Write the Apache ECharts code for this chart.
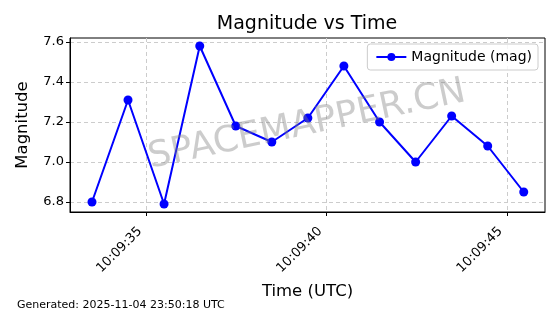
<!DOCTYPE html>
<html><head><meta charset="utf-8">
<script src="https://cdn.jsdelivr.net/npm/echarts@6/dist/echarts.min.js"></script>
<style>html,body{margin:0;padding:0;background:#fff}#c{width:560px;height:314px}</style>
</head><body><div id="c"></div>
<script>
var day = '2025-11-04';
var times = ['10:09:33.49','10:09:34.49','10:09:35.49','10:09:36.48','10:09:37.48','10:09:38.48','10:09:39.48','10:09:40.48','10:09:41.47','10:09:42.47','10:09:43.47','10:09:44.47','10:09:45.47'];
var magnitudes = [6.80, 7.31, 6.79, 7.58, 7.18, 7.10, 7.22, 7.48, 7.20, 7.00, 7.23, 7.08, 6.85];
var xTicks = ['10:09:35','10:09:40','10:09:45'];
var yTicks = [6.8, 7.0, 7.2, 7.4, 7.6];
var xRange = ['10:09:32.88','10:09:46.06'];
var yRange = [6.75, 7.62];

function ts(t){ return Date.parse(day + 'T' + t + 'Z'); }
function pad(n){ return (n<10?'0':'') + n; }
function fmtTime(v){ var d = new Date(v); return pad(d.getUTCHours())+':'+pad(d.getUTCMinutes())+':'+pad(d.getUTCSeconds()); }

var font = 'DejaVu Sans';
var chart = echarts.init(document.getElementById('c'), null, {renderer:'canvas'});
chart.setOption({
  animation: false,
  backgroundColor: '#fff',
  textStyle: {fontFamily: font},
  title: {text: 'Magnitude vs Time', left: 302, top: 10, textAlign: 'center',
    textStyle: {fontFamily: font, fontSize: 19, fontWeight: 'normal', color: '#000'}},
  grid: {left: 70, right: 15, top: 38, bottom: 102, show: true, borderColor: '#000', borderWidth: 1, containLabel: false},
  legend: {right: 22, top: 44, orient: 'horizontal', backgroundColor: 'rgba(255,255,255,0.8)', borderColor: '#ccc', borderWidth: 1, borderRadius: 3,
    padding: [6, 6, 6, 8], itemWidth: 30, itemHeight: 10, itemGap: 8,
    textStyle: {fontFamily: font, fontSize: 14, color: '#000'},
    data: [{name: 'Magnitude (mag)'}]},
  xAxis: {type: 'value', min: ts(xRange[0]), max: ts(xRange[1]), scale: true,
    name: 'Time (UTC)', nameLocation: 'middle', nameGap: 71,
    nameTextStyle: {fontFamily: font, fontSize: 16.5, color: '#000'},
    axisLine: {show: true, lineStyle: {color: '#000', width: 1}},
    axisTick: {show: true, length: 4, lineStyle: {color: '#000'}, customValues: xTicks.map(ts)},
    axisLabel: {rotate: 45, fontFamily: font, fontSize: 13, color: '#000', margin: 11, padding: [0, 9, 0, 0],
      customValues: xTicks.map(ts), formatter: function(v){ return fmtTime(v); }},
    splitLine: {show: true, lineStyle: {color: '#ccc', type: [4, 3], width: 1}}
  },
  yAxis: {type: 'value', min: yRange[0], max: yRange[1],
    name: 'Magnitude', nameLocation: 'middle', nameGap: 39,
    nameTextStyle: {fontFamily: font, fontSize: 16.5, color: '#000'},
    axisLine: {show: true, lineStyle: {color: '#000', width: 1}},
    axisTick: {show: true, length: 4, lineStyle: {color: '#000'}, customValues: yTicks},
    axisLabel: {fontFamily: font, fontSize: 13, color: '#000', margin: 6, customValues: yTicks,
      formatter: function(v){ return v.toFixed(1); }},
    splitLine: {show: true, lineStyle: {color: '#ccc', type: [4, 3], width: 1}}
  },
  graphic: [
    {type: 'text', left: 17, top: 300, style: {text: 'Generated: 2025-11-04 23:50:18 UTC', font: '11px "DejaVu Sans"', fill: '#000'}},
    {type: 'text', x: 307, y: 125, rotation: 12 * Math.PI / 180, z: 100,
      style: {text: 'SPACEMAPPER.CN', font: '36px "DejaVu Sans"', fill: 'rgba(128,128,128,0.4)', align: 'center', verticalAlign: 'middle'}}
  ],
  series: [{
    name: 'Magnitude (mag)', type: 'line',
    data: times.map(function(t, i){ return [ts(t), magnitudes[i]]; }),
    symbol: 'circle', symbolSize: 9,
    lineStyle: {color: '#0000ff', width: 2},
    itemStyle: {color: '#0000ff'}
  }]
});
</script></body></html>
